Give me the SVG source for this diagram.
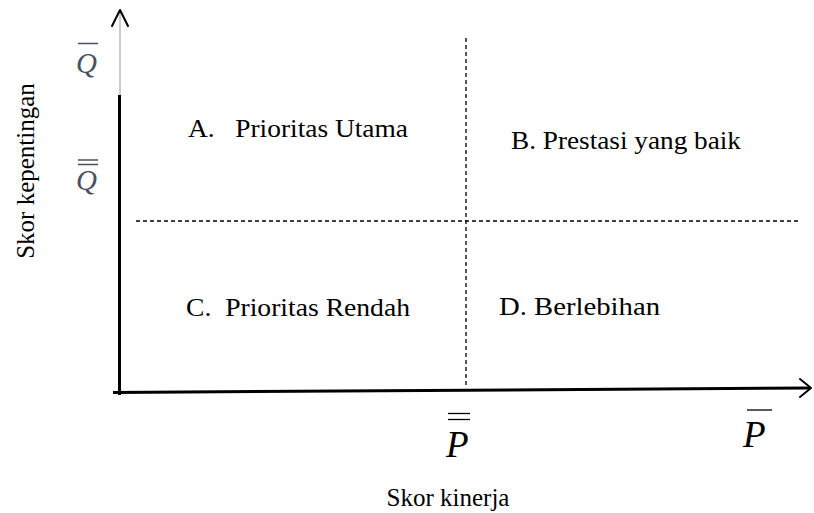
<svg xmlns="http://www.w3.org/2000/svg" width="814" height="513" viewBox="0 0 814 513">
<style>
.t{font-family:"Liberation Serif","Times New Roman",serif;font-size:25px;fill:#000}
.m{font-family:"Liberation Serif","Times New Roman","DejaVu Serif",serif;font-style:italic;fill:#000}
.q{font-family:"Liberation Serif","Times New Roman","DejaVu Serif",serif;font-style:italic;font-size:29px;fill:#4a5060}
.ax{stroke:#000;stroke-width:3;fill:none}
.dash{stroke:#000;stroke-width:1.3;stroke-dasharray:4 3;fill:none}
.ah{stroke:#000;stroke-width:2;fill:none;stroke-linecap:round;stroke-linejoin:round}
</style>
<rect width="814" height="513" fill="#fff"/>
<g id="connectors">
<line x1="120" y1="11" x2="120" y2="96" stroke="#999" stroke-width="1"/>
<line class="ax" x1="119.5" y1="95" x2="119.5" y2="395"/>
<line class="ax" x1="113" y1="392.5" x2="810" y2="388"/>
<polyline class="ah" points="112,26 120,10 128,26"/>
<polyline class="ah" points="800,379 811,388 800,397"/>
<line class="dash" x1="466" y1="38" x2="466" y2="388"/>
<line class="dash" x1="136" y1="221" x2="800" y2="221"/>
</g>
<g id="quadA"><text class="t" x="188" y="137" textLength="220" lengthAdjust="spacingAndGlyphs" xml:space="preserve">A.   Prioritas Utama</text></g>
<g id="quadB"><text class="t" x="511" y="149" textLength="230" lengthAdjust="spacingAndGlyphs">B. Prestasi yang baik</text></g>
<g id="quadC"><text class="t" x="186" y="316" textLength="224" lengthAdjust="spacingAndGlyphs" xml:space="preserve">C.  Prioritas Rendah</text></g>
<g id="quadD"><text class="t" x="499" y="315" textLength="161" lengthAdjust="spacingAndGlyphs">D. Berlebihan</text></g>
<g id="ylabel"><text class="t" transform="translate(34,171) rotate(-90)" text-anchor="middle">Skor kepentingan</text></g>
<g id="xlabel"><text class="t" x="448" y="506" text-anchor="middle">Skor kinerja</text></g>
<g id="Qbar">
<line x1="78" y1="43.5" x2="98" y2="43.5" stroke="#4a5060" stroke-width="1.5"/>
<text class="q" x="76" y="73">Q</text>
</g>
<g id="Qdbar">
<line x1="78" y1="160" x2="98" y2="160" stroke="#4a5060" stroke-width="1.5"/>
<line x1="78" y1="164.5" x2="98" y2="164.5" stroke="#4a5060" stroke-width="1.5"/>
<text class="q" x="76" y="190">Q</text>
</g>
<g id="Pdbar">
<line x1="448" y1="413.5" x2="470" y2="413.5" stroke="#000" stroke-width="1.3"/>
<line x1="448" y1="419.5" x2="470" y2="419.5" stroke="#000" stroke-width="1.3"/>
<text class="m" x="446" y="457" font-size="37">P</text>
</g>
<g id="Pbar">
<line x1="747" y1="410" x2="772" y2="410" stroke="#000" stroke-width="1.3"/>
<text class="m" x="743" y="447" font-size="37">P</text>
</g>
</svg>
